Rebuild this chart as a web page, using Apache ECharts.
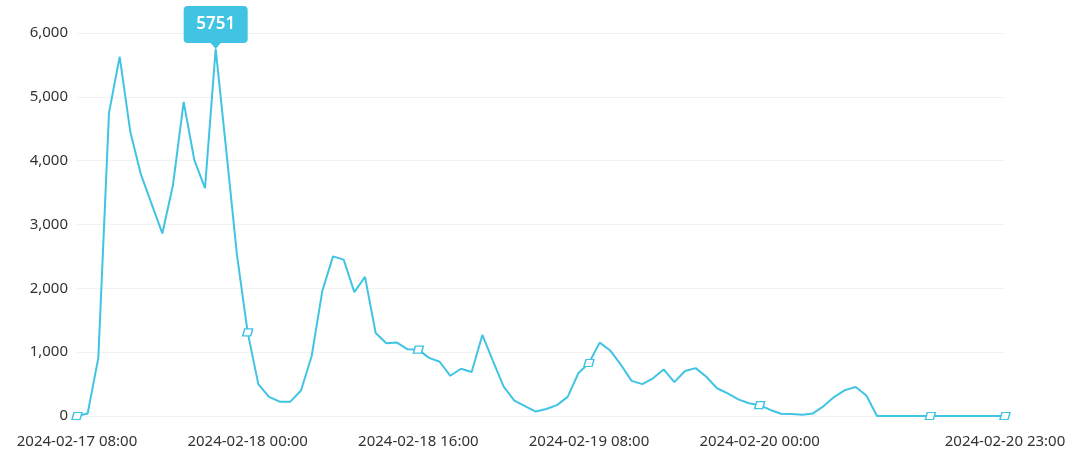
<!DOCTYPE html>
<html>
<head>
<meta charset="utf-8">
<script src="https://cdn.jsdelivr.net/npm/echarts@6/dist/echarts.min.js"></script>
<style>
html,body{margin:0;padding:0;background:#fff;}
#chart{width:1080px;height:467px;}
</style>
</head>
<body>
<div id="chart"></div>
<script>
// Hourly categories from 2024-02-17 08:00 to 2024-02-20 23:00
const hourCount = 88;
function pad(n){return (n<10?'0':'')+n;}
const categories = [];
(function(){
  const d = new Date(2024, 1, 17, 8, 0, 0);
  for (let i = 0; i < hourCount; i++) {
    const t = new Date(d.getTime() + i*3600000);
    categories.push(t.getFullYear()+'-'+pad(t.getMonth()+1)+'-'+pad(t.getDate())+' '+pad(t.getHours())+':00');
  }
})();

const values = [
  0, 40, 910, 4750, 5630, 4450, 3780, 3320, 2860, 3620,
  4920, 4010, 3570, 5751, 4150, 2520, 1310, 500, 300, 225,
  225, 400, 940, 1960, 2500, 2450, 1940, 2180, 1300, 1140,
  1150, 1045, 1040, 910, 850, 630, 740, 690, 1270, 860,
  460, 240, 155, 70, 110, 170, 300, 670, 830, 1150,
  1025, 800, 550, 500, 590, 730, 530, 705, 750, 615,
  435, 355, 260, 200, 170, 95, 35, 30, 20, 40,
  155, 300, 405, 455, 320, 0, 0, 0, 0, 0,
  0, 0, 0, 0, 0, 0, 0, 0
];

const yTicks = [0, 1000, 2000, 3000, 4000, 5000, 6000];
const labelIndices = [0, 16, 32, 48, 64, 87];
const symbolIndices = [0, 16, 32, 48, 64, 80, 87];

const lineColor = '#41c4e4';
const symPath = 'path://M2,0 L10,0 L8,6 L0,6 Z';
const calloutPath = 'path://M4,0 L60,0 Q64,0 64,4 L64,33 Q64,37 60,37 L37,37 L32,43 L27,37 L4,37 Q0,37 0,33 L0,4 Q0,0 4,0 Z';

const seriesData = values.map((v, i) => ({
  value: v,
  symbol: symbolIndices.indexOf(i) >= 0 ? symPath : 'none'
}));

const chart = echarts.init(document.getElementById('chart'), null, {renderer: 'canvas'});
chart.setOption({
  animation: false,
  backgroundColor: '#fff',
  textStyle: {fontFamily: '"Noto Sans", sans-serif'},
  grid: {left: 77, right: 75, top: 33, bottom: 51, containLabel: false},
  xAxis: {
    type: 'category',
    boundaryGap: false,
    data: categories,
    axisLine: {show: false},
    axisTick: {show: false},
    axisLabel: {
      color: '#333',
      fontSize: 15,
      margin: 18,
      interval: function (i) { return labelIndices.indexOf(i) >= 0; },
      fontFamily: '"Noto Sans", sans-serif'
    }
  },
  yAxis: {
    type: 'value',
    min: yTicks[0],
    max: yTicks[yTicks.length - 1],
    interval: 1000,
    axisLine: {show: false},
    axisTick: {show: false},
    axisLabel: {
      color: '#333',
      fontSize: 15,
      margin: 9,
      fontFamily: '"Noto Sans", sans-serif',
      formatter: function (v) { return v.toLocaleString('en-US'); }
    },
    splitLine: {lineStyle: {color: '#f2f2f2', width: 1}}
  },
  series: [{
    type: 'line',
    data: seriesData,
    showSymbol: true,
    showAllSymbol: true,
    symbolSize: [10, 7],
    lineStyle: {color: lineColor, width: 2},
    itemStyle: {color: '#fff', borderColor: lineColor, borderWidth: 1.3},
    markPoint: {
      data: [{type: 'max', name: 'max'}],
      symbol: calloutPath,
      symbolSize: [64, 43],
      symbolOffset: [0, '-50%'],
      itemStyle: {color: lineColor, borderWidth: 0},
      label: {
        show: true,
        color: '#fff',
        fontSize: 17,
        fontWeight: 600,
        offset: [0, -3],
        fontFamily: '"Noto Sans", sans-serif'
      }
    }
  }]
});
</script>
</body>
</html>
